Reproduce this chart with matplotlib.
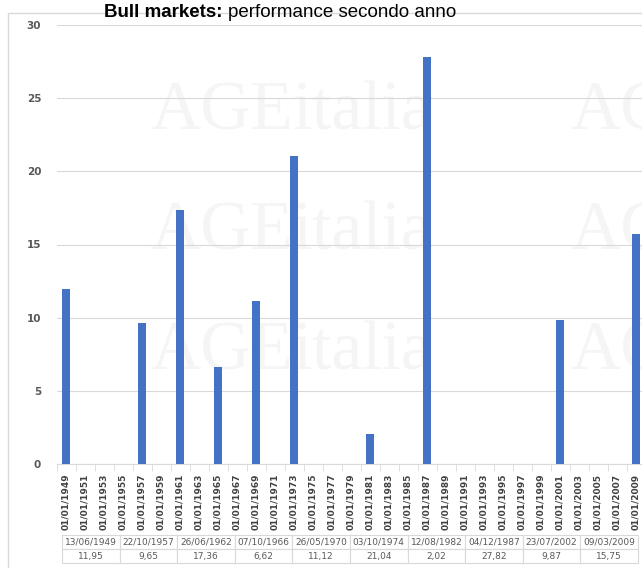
import numpy as np
import matplotlib.pyplot as plt
from matplotlib.patches import Rectangle

# categories on the x axis
categories = ['01/01/1949', '01/01/1951', '01/01/1953', '01/01/1955', '01/01/1957',
              '01/01/1959', '01/01/1961', '01/01/1963', '01/01/1965', '01/01/1967',
              '01/01/1969', '01/01/1971', '01/01/1973', '01/01/1975', '01/01/1977',
              '01/01/1979', '01/01/1981', '01/01/1983', '01/01/1985', '01/01/1987',
              '01/01/1989', '01/01/1991', '01/01/1993', '01/01/1995', '01/01/1997',
              '01/01/1999', '01/01/2001', '01/01/2003', '01/01/2005', '01/01/2007',
              '01/01/2009']

# bars: category where each bar sits and its value
bar_categories = ['01/01/1949', '01/01/1957', '01/01/1961', '01/01/1965', '01/01/1969',
                  '01/01/1973', '01/01/1981', '01/01/1987', '01/01/2001', '01/01/2009']
bar_values = [11.95, 9.65, 17.36, 6.62, 11.12, 21.04, 2.02, 27.82, 9.87, 15.75]

# table under the chart
table_dates = ['13/06/1949', '22/10/1957', '26/06/1962', '07/10/1966', '26/05/1970',
               '03/10/1974', '12/08/1982', '04/12/1987', '23/07/2002', '09/03/2009']
table_values = ['11,95', '9,65', '17,36', '6,62', '11,12',
                '21,04', '2,02', '27,82', '9,87', '15,75']

W, H = 642, 568
fig = plt.figure(figsize=(W / 100, H / 100), dpi=100)
fig.patch.set_facecolor('white')

# chart frame
fig.patches.append(Rectangle((8 / W, -0.01), 1.0, (H - 13) / H + 0.01,
                             transform=fig.transFigure, facecolor='none',
                             edgecolor='#d9d9d9', linewidth=1.0, zorder=-2))

# faint watermark
for ty in [113, 233, 353]:
    for tx in [150, 570]:
        fig.text(tx / W, 1 - ty / H, 'AGEitalia', fontsize=50, family='Liberation Serif',
                 color='#f5f5f5', ha='left', va='center', zorder=-1)

ax = fig.add_axes([56.5 / W, (H - 464) / H, 589 / W, 439 / H])
ax.set_facecolor('none')

x = np.arange(len(categories))
bar_x = [categories.index(c) for c in bar_categories]
ax.bar(bar_x, bar_values, width=0.42, color='#4472C4', zorder=3)

ax.set_xlim(-0.5, len(categories) - 0.5)
ax.set_ylim(0, 30)
ax.set_yticks(np.arange(0, 31, 5))
ax.yaxis.grid(True, color='#d9d9d9', linewidth=0.8)
ax.set_axisbelow(True)

for s in ['top', 'right', 'left']:
    ax.spines[s].set_visible(False)
ax.spines['bottom'].set_color('#d9d9d9')

ax.set_xticks(x)
ax.set_xticklabels(categories, rotation=90, fontsize=6.5, color='#404040',
                   fontweight='bold')
ax.set_xticks(np.arange(-0.5, len(categories), 1), minor=True)
ax.tick_params(axis='x', which='major', length=0, pad=7)
ax.tick_params(axis='x', which='minor', length=5, color='#d9d9d9')
ax.tick_params(axis='y', length=0, pad=11, labelsize=7.5, labelcolor='#595959')
for lab in ax.get_yticklabels():
    lab.set_fontweight('bold')

# table under axis labels
tbl = ax.table(cellText=[table_dates, table_values], cellLoc='center',
               bbox=[(62 - 56.5) / 589, -(563 - 464) / 439, 576 / 589, 28 / 439])
tbl.auto_set_font_size(False)
tbl.set_fontsize(6.5)
for cell in tbl.get_celld().values():
    cell.set_edgecolor('#d9d9d9')
    cell.set_linewidth(0.8)
    cell.get_text().set_color('#595959')

# title
fig.text(222 / W, 1 - 17 / H, 'Bull markets:', fontsize=13.5, fontweight='bold',
         family='Liberation Sans', ha='right', va='baseline')
fig.text(228 / W, 1 - 17 / H, 'performance secondo anno', fontsize=13.5,
         family='Liberation Sans', ha='left', va='baseline')

fig.savefig('out.png', dpi=100)
